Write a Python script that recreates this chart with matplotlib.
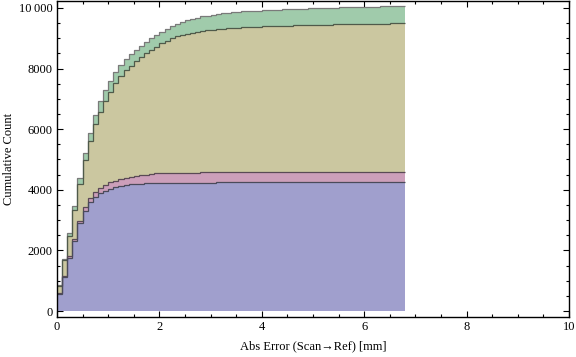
import numpy as np
import matplotlib
matplotlib.use("Agg")
import matplotlib.pyplot as plt
from matplotlib.ticker import MultipleLocator, FuncFormatter

# bin edges: 0.1 mm bins from 0 to 6.8 mm
bin_width = 0.1
n_bins = 68

green_counts = [870, 1720, 2560, 3450, 4380, 5205, 5890, 6460, 6920, 7290,
                7600, 7890, 8110, 8320, 8470, 8610, 8760, 8890, 9000, 9110,
                9220, 9310, 9390, 9460, 9530, 9590, 9640, 9680, 9720, 9750,
                9775, 9800, 9820, 9840, 9855, 9870, 9885, 9895, 9905, 9915,
                9925, 9935, 9942, 9950, 9957, 9964, 9970, 9976, 9982, 9988,
                9994, 10000, 10005, 10010, 10015, 10020, 10025, 10029, 10033, 10037,
                10041, 10045, 10049, 10053, 10057, 10060, 10063, 10066]

tan_counts = [830, 1680, 2475, 3330, 4200, 4980, 5610, 6170, 6560, 6920,
              7240, 7510, 7740, 7950, 8100, 8250, 8390, 8510, 8620, 8720,
              8830, 8920, 9000, 9060, 9110, 9150, 9185, 9215, 9240, 9260,
              9280, 9300, 9315, 9330, 9340, 9350, 9360, 9368, 9376, 9384,
              9390, 9396, 9402, 9408, 9413, 9418, 9423, 9428, 9432, 9436,
              9440, 9444, 9448, 9452, 9456, 9460, 9463, 9466, 9469, 9472,
              9475, 9478, 9481, 9484, 9487, 9490, 9492, 9494]

pink_counts = [580, 1150, 1800, 2366, 2970, 3422, 3719, 3937, 4070, 4158,
               4257, 4300, 4356, 4400, 4433, 4445, 4477, 4490, 4521, 4545,
               4555, 4560, 4563, 4565, 4567, 4568, 4569, 4570, 4571, 4571,
               4572, 4572, 4573, 4573, 4574, 4574, 4575, 4575, 4575, 4576,
               4576, 4576, 4577, 4577, 4577, 4578, 4578, 4578, 4578, 4579,
               4579, 4579, 4579, 4580, 4580, 4580, 4580, 4580, 4580, 4580,
               4580, 4580, 4580, 4580, 4580, 4580, 4580, 4580]

blue_counts = [550, 1110, 1740, 2300, 2890, 3310, 3590, 3772, 3884, 3971,
               4037, 4081, 4125, 4158, 4180, 4190, 4202, 4212, 4224, 4226,
               4228, 4230, 4232, 4234, 4235, 4236, 4237, 4238, 4239, 4240,
               4240, 4241, 4241, 4242, 4242, 4243, 4243, 4244, 4244, 4244,
               4245, 4245, 4245, 4246, 4246, 4246, 4247, 4247, 4247, 4247,
               4248, 4248, 4248, 4248, 4249, 4249, 4249, 4249, 4249, 4250,
               4250, 4250, 4250, 4250, 4250, 4250, 4250, 4250]

x_ticks = [0, 2, 4, 6, 8, 10]
y_ticks = [0, 2000, 4000, 6000, 8000, 10000]
x_label = "Abs Error (Scan\u2192Ref) [mm]"
y_label = "Cumulative Count"

edges = np.arange(n_bins + 1) * bin_width

series = [
    (green_counts, "#a0cbab", "#7a7a7a"),
    (tan_counts, "#cbc7a0", "#4f5a4a"),
    (pink_counts, "#cc9fba", "#5a4a55"),
    (blue_counts, "#a09fcd", "#4a4a5a"),
]

plt.rcParams['font.family'] = ['Liberation Serif', 'DejaVu Serif']

fig = plt.figure(figsize=(5.76, 3.57), dpi=100)
ax = fig.add_axes([57/576, 1 - 317/357, (569 - 57)/576, (317 - 1)/357])

for vals, fc, lc in series:
    ax.stairs(vals, edges, baseline=0, fill=True, color=fc, linewidth=0, zorder=2)
for vals, fc, lc in series:
    ax.stairs(vals, edges, baseline=None, fill=False, color=lc, linewidth=0.9, zorder=3)

ax.set_xlim(0, 10)
ax.set_ylim(-198, 10231)

ax.set_xticks(x_ticks)
ax.set_yticks(y_ticks)
ax.xaxis.set_minor_locator(MultipleLocator(0.5))
ax.yaxis.set_minor_locator(MultipleLocator(500))

def yfmt(v, pos):
    v = int(round(v))
    if v >= 10000:
        return f"{v // 1000}\u2009{v % 1000:03d}"
    return str(v)

ax.yaxis.set_major_formatter(FuncFormatter(yfmt))

ax.tick_params(which='both', direction='in', top=True, right=True,
               labelsize=9, colors='black', pad=3)
ax.tick_params(which='major', length=4.5, width=0.8)
ax.tick_params(which='minor', length=2.5, width=0.8)

for sp in ax.spines.values():
    sp.set_linewidth(1.0)
    sp.set_color('black')
    sp.set_zorder(5)

ax.set_xlabel(x_label, fontsize=9, labelpad=5)
ax.set_ylabel(y_label, fontsize=9, labelpad=3)

fig.savefig("out.png", dpi=100)
